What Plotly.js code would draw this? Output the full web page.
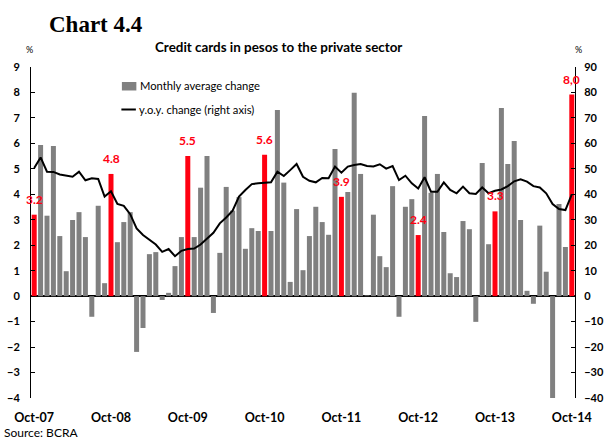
<!DOCTYPE html>
<html><head><meta charset="utf-8">
<script src="https://cdn.plot.ly/plotly-3.0.1.min.js"></script>
<style>html,body{margin:0;padding:0;background:#fff}#chart{width:604px;height:441px}</style>
</head><body><div id="chart"></div>
<script>
// Monthly average change (%), Oct-07 .. Oct-14 (85 months)
const monthly = [
 3.2, 5.94, 3.16, 5.90, 2.36, 0.98, 2.99, 3.30, 2.32, -0.81, 3.55, 0.51,
 4.8, 2.12, 2.91, 3.30, -2.19, -1.25, 1.65, 1.73, -0.15, 0.13, 1.18, 2.32,
 5.5, 2.32, 4.26, 5.50, -0.66, 1.70, 4.29, 3.36, 3.89, 1.86, 2.67, 2.56,
 5.55, 2.56, 7.31, 4.46, 0.56, 3.42, 1.02, 2.36, 3.51, 2.91, 2.41, 5.78,
 3.9, 4.09, 7.99, 4.80, 0.03, 3.20, 1.57, 1.14, 4.32, -0.81, 3.51, 3.81,
 2.4, 7.08, 4.06, 4.80, 2.52, 0.90, 0.75, 2.95, 2.63, -1.01, 5.23, 2.04,
 3.33, 7.39, 5.19, 6.09, 2.99, 0.21, -0.30, 2.77, 0.96, -4.0, 3.62, 1.93,
 7.92
];
// y.o.y. change (%), right axis
const yoy = [
 50.3, 54.5, 48.9, 48.8, 47.8, 47.2, 46.9, 48.9, 45.5, 46.3, 46.0, 39.1,
 41.2, 36.2, 35.5, 32.2, 26.6, 24.0, 22.0, 20.3, 17.4, 18.5, 15.7, 17.8,
 18.5, 18.7, 20.3, 22.7, 24.9, 28.6, 30.9, 33.6, 39.1, 41.7, 44.0, 44.3,
 44.4, 44.7, 48.9, 47.2, 49.5, 51.9, 46.9, 45.3, 44.7, 46.4, 46.3, 50.9,
 48.5, 50.9, 51.5, 51.9, 51.1, 50.9, 51.8, 50.1, 51.1, 45.6, 47.3, 44.3,
 42.3, 46.7, 41.0, 41.0, 44.7, 41.7, 40.4, 43.0, 40.4, 40.1, 42.7, 40.4,
 41.4, 41.9, 43.2, 45.1, 45.9, 45.0, 43.2, 42.7, 40.4, 36.2, 34.2, 33.8,
 40.0
];
const tickLabels = ["Oct-07","Oct-08","Oct-09","Oct-10","Oct-11","Oct-12","Oct-13","Oct-14"];
const octLabels = ["3.2","4.8","5.5","5.6","3.9","2.4","3.3","8,0"];
const seriesNames = ["Monthly average change", "y.o.y. change (right axis)"];

const idx = monthly.map((_, i) => i);
const isOct = i => i % 12 === 0;
const grayY = monthly.map((v, i) => isOct(i) ? null : v);
const redY = monthly.map((v, i) => isOct(i) ? v : null);
const tickVals = tickLabels.map((_, k) => k * 12);

const GRAY = '#808080', RED = '#ff0011';
const FONT = "Lato, 'Open Sans', sans-serif";
const traces = [
 {type:'bar', x: idx, y: grayY, name:seriesNames[0], marker:{color:GRAY}, width:0.78, hoverinfo:'skip'},
 {type:'bar', x: idx, y: redY, name:'Oct', marker:{color:RED}, width:0.78, hoverinfo:'skip'},
 {type:'scatter', mode:'lines', x: idx, y: yoy, yaxis:'y2', name:seriesNames[1], line:{color:'#000', width:2}, hoverinfo:'skip'}
];

// pixel -> paper helpers (plot area: x 31..575.7, y 67..398)
const L = 31, W = 544.7, T = 67, H = 331;
const px = x => (x - L) / W;
const py = y => (T + H - y) / H;

const annotations = [
 {xref:'paper', yref:'paper', x: px(47), y: py(25), xanchor:'left', yanchor:'middle', text:'<b>Chart 4.4</b>', showarrow:false, font:{family:"'Liberation Serif', serif", size:23, color:'#000'}},
 {xref:'paper', yref:'paper', x: px(279), y: py(47), xanchor:'center', yanchor:'middle', text:'<b>Credit cards in pesos to the private sector</b>', showarrow:false, font:{family:FONT, size:13.4, color:'#000'}},
 {xref:'paper', yref:'paper', x: px(29), y: py(49), xanchor:'center', yanchor:'middle', text:'%', showarrow:false, font:{family:FONT, size:9, color:'#000'}},
 {xref:'paper', yref:'paper', x: px(579), y: py(49), xanchor:'center', yanchor:'middle', text:'%', showarrow:false, font:{family:FONT, size:9, color:'#000'}},
 {xref:'paper', yref:'paper', x: px(2), y: py(433), xanchor:'left', yanchor:'middle', text:'Source: BCRA', showarrow:false, font:{family:FONT, size:12, color:'#000'}},
 {xref:'paper', yref:'paper', x: px(138), y: py(86), xanchor:'left', yanchor:'middle', text:seriesNames[0], showarrow:false, font:{family:FONT, size:11.2, color:'#000'}},
 {xref:'paper', yref:'paper', x: px(137), y: py(109), xanchor:'left', yanchor:'middle', text:seriesNames[1], showarrow:false, font:{family:FONT, size:11.2, color:'#000'}}
];
tickVals.forEach((xv, k) => {
 annotations.push({x: xv, y: monthly[xv], xref:'x', yref:'y', text:'<b>'+octLabels[k]+'</b>', showarrow:false, yanchor:'bottom', yshift:6, font:{family:FONT, size:12, color:RED}});
});

const shapes = [
 {type:'rect', xref:'paper', yref:'paper', x0:px(122), x1:px(136.5), y0:py(82), y1:py(90.5), fillcolor:GRAY, line:{width:0}},
 {type:'line', xref:'paper', yref:'paper', x0:px(121.5), x1:px(136), y0:py(109.5), y1:py(109.5), line:{color:'#000', width:2}}
];

const layout = {
 width:604, height:441,
 margin:{l:31, r:29, t:67, b:43},
 paper_bgcolor:'#fff', plot_bgcolor:'#fff',
 barmode:'overlay',
 showlegend:false,
 font:{family:FONT, color:'#000'},
 xaxis:{range:[-0.5, 84.5], tickvals:tickVals, ticktext:tickLabels, showgrid:false, zeroline:false, showline:false, ticks:'', tickfont:{family:FONT, size:12.5, weight:'bold'}, ticklabelstandoff:10},
 yaxis:{range:[-4, 9], dtick:1, showgrid:false, zeroline:true, zerolinecolor:'#000', zerolinewidth:1.5, showline:true, linecolor:'#000', linewidth:1, ticks:'inside', ticklen:4, tickcolor:'#000', tickfont:{family:FONT, size:11, weight:'bold'}, ticklabelstandoff:8},
 yaxis2:{range:[-40, 90], dtick:10, overlaying:'y', side:'right', showgrid:false, zeroline:false, showline:true, linecolor:'#000', linewidth:1, ticks:'inside', ticklen:4, tickcolor:'#000', tickfont:{family:FONT, size:11, weight:'bold'}, ticklabelstandoff:6},
 shapes: shapes,
 annotations: annotations
};
Plotly.newPlot('chart', traces, layout, {displayModeBar:false, staticPlot:true});
</script>
</body></html>
